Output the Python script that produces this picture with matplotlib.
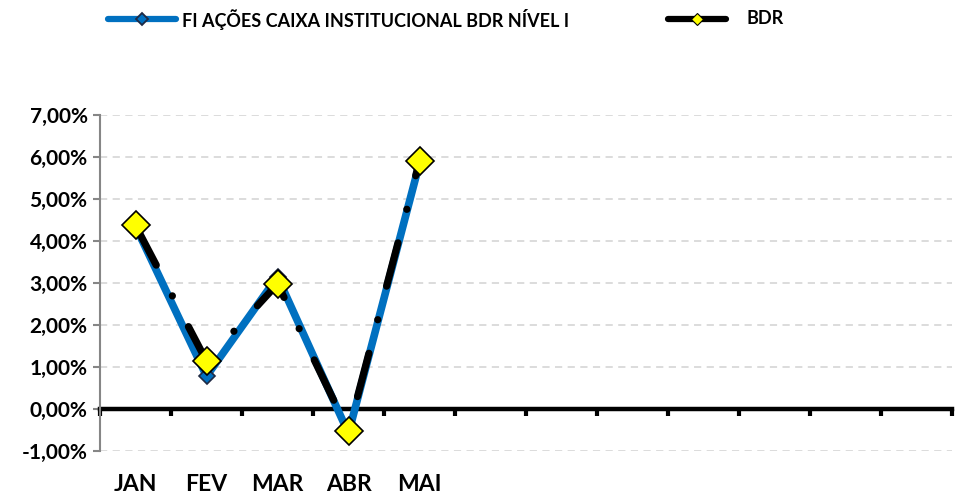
import numpy as np
import matplotlib.pyplot as plt
from matplotlib.lines import Line2D
from matplotlib.ticker import FuncFormatter

plt.rcParams['font.family'] = ['Lato', 'DejaVu Sans']
plt.rcParams['font.weight'] = 'bold'

# data (monthly return, %)
months = ['JAN', 'FEV', 'MAR', 'ABR', 'MAI', '', '', '', '', '', '', '']
fund_name = 'FI AÇÕES CAIXA INSTITUCIONAL BDR NÍVEL I'
bench_name = 'BDR'
fund = [4.35, 0.78, 3.15, -0.58, 5.85]
bench = [4.37, 1.14, 2.98, -0.52, 5.90]

x = np.arange(len(months))
W, H = 955, 497

fig = plt.figure(figsize=(W / 100, H / 100), dpi=100)
ax = fig.add_axes([100 / W, 46 / H, 852 / W, 336 / H])

# gridlines
for v in range(-1, 8):
    ax.axhline(v, color='#D9D9D9', lw=1.3, dashes=(4, 3), zorder=0)

ax.plot(x[:len(fund)], fund, color='#0070C0', lw=5.5, marker='D', ms=8,
        mfc='#0070C0', mec='#1F2A44', mew=1.2, solid_capstyle='round', zorder=3)
ax.plot(x[:len(bench)], bench, color='black', lw=5.2, dashes=(6.2, 4.8, 0.01, 4.8),
        dash_capstyle='round', marker='D', ms=14, mfc='#FFFF00', mec='black',
        mew=1.2, zorder=4)

ax.set_xlim(-0.5, len(months) - 0.5)
ax.set_ylim(-1, 7)
ax.set_yticks(range(-1, 8))
ax.yaxis.set_major_formatter(FuncFormatter(lambda v, p: f'{v:.2f}%'.replace('.', ',')))

ax.spines['top'].set_visible(False)
ax.spines['right'].set_visible(False)
ax.spines['left'].set_color('#868686')
ax.spines['left'].set_linewidth(1.5)
ax.spines['bottom'].set_position(('data', 0))
ax.spines['bottom'].set_linewidth(3.2)
ax.spines['bottom'].set_zorder(2)

ax.tick_params(axis='y', colors='#868686', length=5, width=1.5, labelsize=15,
               labelcolor='black', pad=4)
ax.set_xticks(np.arange(-0.5, len(months), 1.0))
ax.set_xticklabels([])
ax.tick_params(axis='x', which='major', length=5, width=3, color='black')
ax.set_xticks(x, minor=True)
ax.set_xticklabels(months, minor=True)
ax.tick_params(axis='x', which='minor', length=0, labelsize=16.5, pad=47)

# legend drawn by hand at the top
ly = 1 - 19 / H
fig.add_artist(Line2D([108 / W, 176 / W], [ly, ly], color='#0070C0', lw=4.5,
                      solid_capstyle='round'))
fig.add_artist(Line2D([142 / W], [ly], marker='D', ms=6, mfc='#0070C0', mec='#1F2A44',
                      mew=1.3))
fig.text(182 / W, ly, fund_name, fontsize=13, va='center', ha='left')
fig.add_artist(Line2D([668 / W, 726 / W], [ly, ly], color='black', lw=4.5,
                      solid_capstyle='round'))
fig.add_artist(Line2D([697 / W], [ly], marker='D', ms=6, mfc='#FFFF00', mec='black',
                      mew=0.8))
fig.text(746 / W, ly, bench_name, fontsize=13, va='center', ha='left')

fig.savefig('out.png', dpi=100)
